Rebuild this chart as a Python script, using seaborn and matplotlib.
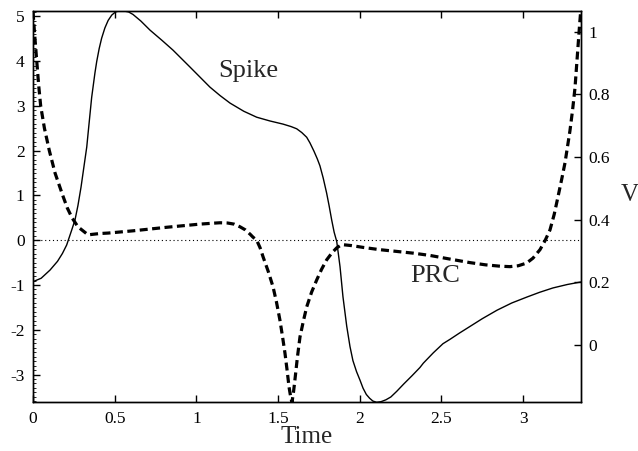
import matplotlib
matplotlib.use("Agg")
import matplotlib.pyplot as plt
import seaborn as sns
import pandas as pd
from matplotlib.ticker import MultipleLocator

# Spike (membrane potential V, right axis)
spike_t = [0.000, 0.050, 0.104, 0.150, 0.180, 0.206, 0.237, 0.257, 0.275, 0.294,
           0.312, 0.329, 0.338, 0.359, 0.379, 0.390, 0.405, 0.420, 0.440, 0.460,
           0.482, 0.505, 0.532, 0.557, 0.585, 0.612, 0.660, 0.716, 0.790, 0.857,
           0.961, 1.022, 1.083, 1.145, 1.206, 1.290, 1.369, 1.450, 1.530, 1.580,
           1.614, 1.645, 1.675, 1.695, 1.720, 1.740, 1.756, 1.776, 1.797, 1.812,
           1.828, 1.843, 1.859, 1.879, 1.897, 1.920, 1.940, 1.958, 1.980, 2.001,
           2.020, 2.040, 2.060, 2.080, 2.103, 2.130, 2.160, 2.190, 2.226, 2.270,
           2.320, 2.368, 2.389, 2.450, 2.509, 2.552, 2.610, 2.674, 2.750, 2.840,
           2.930, 3.023, 3.100, 3.182, 3.270, 3.352]
spike_v = [0.202, 0.213, 0.239, 0.267, 0.292, 0.319, 0.367, 0.399, 0.445, 0.504,
           0.570, 0.632, 0.680, 0.790, 0.868, 0.905, 0.946, 0.979, 1.012, 1.036,
           1.053, 1.063, 1.067, 1.066, 1.063, 1.055, 1.034, 1.005, 0.972, 0.941,
           0.887, 0.855, 0.823, 0.796, 0.772, 0.746, 0.727, 0.715, 0.705, 0.697,
           0.690, 0.678, 0.663, 0.645, 0.618, 0.594, 0.572, 0.533, 0.485, 0.445,
           0.399, 0.360, 0.330, 0.250, 0.154, 0.060, -0.005, -0.050, -0.085, -0.112,
           -0.138, -0.158, -0.170, -0.179, -0.183, -0.181, -0.175, -0.166, -0.148, -0.124,
           -0.098, -0.072, -0.058, -0.025, 0.004, 0.018, 0.038, 0.059, 0.084, 0.111,
           0.134, 0.153, 0.168, 0.182, 0.193, 0.201]

# Phase response curve (left axis)
prc_t = [0.000, 0.010, 0.023, 0.035, 0.047, 0.070, 0.100, 0.135, 0.182, 0.210,
         0.239, 0.275, 0.306, 0.337, 0.360, 0.410, 0.460, 0.612, 0.820, 1.022,
         1.100, 1.144, 1.190, 1.230, 1.267, 1.300, 1.330, 1.346, 1.369, 1.390,
         1.408, 1.440, 1.469, 1.490, 1.511, 1.527, 1.542, 1.555, 1.567, 1.578,
         1.585, 1.594, 1.603, 1.618, 1.634, 1.655, 1.675, 1.705, 1.736, 1.766,
         1.797, 1.830, 1.859, 1.880, 1.897, 1.950, 2.020, 2.120, 2.226, 2.330,
         2.430, 2.550, 2.674, 2.770, 2.858, 2.919, 2.970, 3.021, 3.060, 3.103,
         3.135, 3.164, 3.190, 3.213, 3.235, 3.256, 3.286, 3.302, 3.317, 3.335,
         3.345, 3.352]
prc_v = [5.10, 4.60, 4.00, 3.45, 3.00, 2.50, 2.00, 1.50, 1.00, 0.72,
         0.50, 0.30, 0.21, 0.12, 0.13, 0.15, 0.16, 0.21, 0.29, 0.36,
         0.38, 0.39, 0.385, 0.36, 0.30, 0.23, 0.13, 0.07, 0.00, -0.17,
         -0.37, -0.70, -1.04, -1.38, -1.78, -2.15, -2.52, -2.90, -3.28, -3.52,
         -3.62, -3.40, -3.12, -2.62, -2.16, -1.80, -1.49, -1.16, -0.89, -0.65,
         -0.44, -0.28, -0.17, -0.12, -0.10, -0.12, -0.16, -0.21, -0.25, -0.29,
         -0.34, -0.42, -0.50, -0.55, -0.58, -0.59, -0.57, -0.51, -0.40, -0.21,
         0.00, 0.23, 0.58, 0.97, 1.35, 1.73, 2.44, 2.90, 3.40, 4.30,
         4.80, 5.12]

x_ticks = [0, 0.5, 1, 1.5, 2, 2.5, 3]
x_ticklabels = ["0", "0.5", "1", "1.5", "2", "2.5", "3"]
left_ticks = [-3, -2, -1, 0, 1, 2, 3, 4, 5]
right_ticks = [0, 0.2, 0.4, 0.6, 0.8, 1.0]
right_ticklabels = ["0", "0.2", "0.4", "0.6", "0.8", "1"]

sns.set_style("ticks")
plt.rcParams["font.family"] = ["Liberation Serif", "DejaVu Serif"]
plt.rcParams["axes.unicode_minus"] = False

fig = plt.figure(figsize=(6.38, 4.51), dpi=100)
ax = fig.add_axes([33 / 638, 1 - 402.3 / 451, (580.7 - 33) / 638, (402.3 - 11) / 451])
ax2 = ax.twinx()

spike_df = pd.DataFrame({"t": spike_t, "v": spike_v})
prc_df = pd.DataFrame({"t": prc_t, "p": prc_v})

ax.axhline(0, color="black", lw=0.8, ls=(0, (1, 2.5)), zorder=1)
sns.lineplot(data=prc_df, x="t", y="p", ax=ax, sort=False, estimator=None,
             color="black", lw=2.3, linestyle=(0, (2.5, 1.4)), zorder=3)
sns.lineplot(data=spike_df, x="t", y="v", ax=ax2, sort=False, estimator=None,
             color="black", lw=1.0, zorder=3)

ax.set_xlim(0, 3.352)
ax.set_ylim(-3.62, 5.12)
ax2.set_ylim(-0.183, 1.066)

ax.set_xticks(x_ticks)
ax.set_xticklabels(x_ticklabels)
ax.set_yticks(left_ticks)
ax.set_yticklabels([str(v) for v in left_ticks])
ax.yaxis.set_minor_locator(MultipleLocator(0.1))
ax2.set_yticks(right_ticks)
ax2.set_yticklabels(right_ticklabels)

ax.tick_params(axis="x", which="major", direction="in", length=5, width=1,
               top=True, bottom=True, labelsize=12.5, pad=6.5, colors="black")
ax.tick_params(axis="y", which="major", direction="in", length=5, width=1,
               left=True, right=False, labelsize=12.5, pad=6, colors="black")
ax.tick_params(axis="y", which="minor", direction="in", length=2.2, width=0.7,
               left=True, right=False)
ax2.tick_params(axis="y", which="major", direction="in", length=5, width=1,
                right=True, left=False, labelsize=12.5, pad=5.5, colors="black")

for a in (ax, ax2):
    for s in a.spines.values():
        s.set_visible(True)
        s.set_linewidth(1.0)
        s.set_color("black")

ax.set_xlabel("Time", fontsize=18, labelpad=-1)
ax.set_ylabel("")
ax2.set_ylabel("")
fig.text(630 / 638, 1 - 195 / 451, "V", fontsize=18, ha="center", va="center")

ax.text(1.316, 3.78, "Spike", fontsize=19, ha="center", va="center")
ax.text(2.46, -0.80, "PRC", fontsize=19, ha="center", va="center")

fig.savefig("out.png", dpi=100)
